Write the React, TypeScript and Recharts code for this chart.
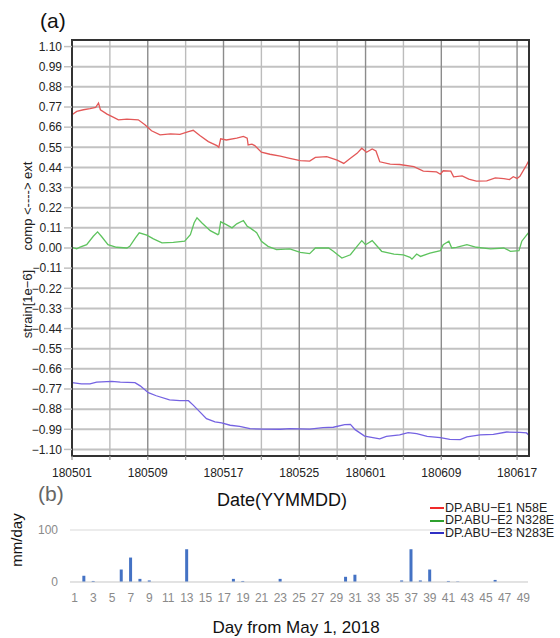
import React from 'react';
import { LineChart, Line, XAxis, YAxis, ReferenceLine, ReferenceArea, CartesianGrid, BarChart, Bar } from 'recharts';

const FONT = '"Liberation Sans", Arial, Helvetica, sans-serif';

// ---- Panel (a): strain series (x = days since 2018-05-01) ----
const e1Days = [0, 0.5, 1.2, 1.9, 2.5, 2.8, 3.0, 3.7, 4.4, 4.9, 5.8, 7.0, 7.7, 8.4, 9.3, 10.4, 11.4, 12.3, 12.8, 13.5, 14.4, 15.3, 15.5, 15.7, 16.3, 17.4, 18.1, 18.5, 18.6, 19.0, 19.3, 20.0, 20.9, 22.0, 23.0, 24.1, 25.1, 25.7, 26.9, 28.0, 28.7, 29.4, 30.1, 30.6, 31.1, 31.7, 32.1, 32.5, 33.6, 34.6, 36.1, 37.1, 38.5, 38.9, 39.2, 40.0, 40.3, 41.2, 41.9, 42.7, 43.8, 44.7, 45.6, 46.2, 46.6, 47.0, 47.3, 47.9, 48.25];
const e1Vals = [0.728, 0.746, 0.755, 0.761, 0.768, 0.792, 0.755, 0.731, 0.713, 0.700, 0.704, 0.700, 0.673, 0.640, 0.618, 0.623, 0.621, 0.636, 0.643, 0.614, 0.581, 0.559, 0.550, 0.596, 0.590, 0.600, 0.609, 0.600, 0.563, 0.567, 0.559, 0.523, 0.512, 0.502, 0.490, 0.477, 0.475, 0.495, 0.499, 0.480, 0.462, 0.490, 0.517, 0.545, 0.523, 0.541, 0.530, 0.471, 0.458, 0.456, 0.444, 0.420, 0.416, 0.403, 0.422, 0.420, 0.389, 0.394, 0.376, 0.365, 0.367, 0.383, 0.379, 0.374, 0.389, 0.380, 0.392, 0.444, 0.477];

const e2Days = [0, 0.5, 0.85, 1.55, 2.25, 2.7, 3.1, 3.8, 4.7, 5.8, 6.1, 6.7, 7.1, 7.9, 8.6, 9.5, 10.7, 11.9, 12.5, 12.9, 13.2, 13.7, 14.6, 15.4, 15.5, 15.7, 16.3, 16.9, 17.4, 18.1, 18.5, 18.8, 19.2, 19.5, 20.0, 20.7, 21.6, 23.0, 24.1, 25.1, 25.7, 27.1, 27.6, 28.5, 29.4, 30.1, 30.6, 31.0, 31.7, 32.7, 34.0, 35.0, 35.7, 35.9, 36.4, 36.8, 37.8, 38.9, 39.2, 39.8, 40.1, 40.6, 41.7, 42.7, 44.2, 45.6, 46.3, 47.2, 47.5, 47.9, 48.25];
const e2Vals = [0.004, -0.005, 0.005, 0.018, 0.064, 0.088, 0.064, 0.018, 0.004, 0.0, 0.009, 0.055, 0.083, 0.070, 0.050, 0.028, 0.031, 0.037, 0.073, 0.138, 0.165, 0.138, 0.095, 0.073, 0.077, 0.143, 0.128, 0.110, 0.132, 0.150, 0.119, 0.110, 0.095, 0.083, 0.037, 0.009, -0.009, -0.005, -0.024, -0.031, 0.0, 0.0, -0.018, -0.055, -0.037, 0.009, 0.040, 0.018, 0.040, -0.018, -0.033, -0.037, -0.051, -0.061, -0.033, -0.046, -0.028, -0.015, 0.018, 0.037, 0.0, 0.004, 0.018, 0.004, -0.005, 0.0, -0.018, -0.015, 0.037, 0.064, 0.086];

const e3Days = [0, 1.0, 1.9, 2.6, 4.2, 5.1, 6.65, 7.2, 8.06, 8.9, 10.3, 11.4, 12.3, 12.8, 13.5, 14.2, 15.1, 15.8, 16.7, 17.7, 18.8, 20.2, 22.0, 23.0, 25.1, 26.5, 27.6, 28.8, 29.4, 29.9, 30.9, 32.5, 33.2, 34.6, 35.5, 36.4, 37.5, 38.9, 39.9, 41.0, 41.7, 43.1, 44.5, 45.9, 47.3, 48.0, 48.25];
const e3Vals = [-0.735, -0.742, -0.742, -0.733, -0.728, -0.733, -0.735, -0.753, -0.790, -0.807, -0.830, -0.834, -0.834, -0.858, -0.895, -0.932, -0.950, -0.955, -0.968, -0.974, -0.987, -0.989, -0.990, -0.987, -0.989, -0.981, -0.979, -0.965, -0.963, -0.992, -1.027, -1.042, -1.029, -1.021, -1.008, -1.014, -1.029, -1.036, -1.045, -1.047, -1.032, -1.021, -1.018, -1.005, -1.007, -1.010, -1.023];

const seriesNames = ['DP.ABU\u2212E1 N58E', 'DP.ABU\u2212E2 N328E', 'DP.ABU\u2212E3 N283E'];
const lineColors = ['#e35858', '#5ec35e', '#7462e2'];
const legendColors = ['#f02a2a', '#2ea02e', '#2f2fc4'];

const dateTickDays = [0, 4, 8, 12, 16, 20, 24, 28, 31, 35, 39, 43, 47];
const dateTickLabels = ['180501', '', '180509', '', '180517', '', '180525', '', '180601', '', '180609', '', '180617'];
const strainTicks = [-1.1, -0.99, -0.88, -0.77, -0.66, -0.55, -0.44, -0.33, -0.22, -0.11, 0, 0.11, 0.22, 0.33, 0.44, 0.55, 0.66, 0.77, 0.88, 0.99, 1.1];
const xDomain: [number, number] = [0, 48.26];
const yDomain: [number, number] = [-1.136, 1.136];
const yLabelLower = 'strain[1e\u22126]';
const yLabelUpper = 'comp <----> ext';

// ---- Panel (b): daily precipitation ----
const rainDayLabels = ['1', '2', '3', '4', '5', '6', '7', '8', '9', '10', '11', '12', '13', '14', '15', '16', '17', '18', '19', '20', '21', '22', '23', '24', '25', '26', '27', '28', '29', '30', '31', '32', '33', '34', '35', '36', '37', '38', '39', '40', '41', '42', '43', '44', '45', '46', '47', '48', '49'];
const rainValues = [0, 12, 2, 0, 0, 24, 47, 6, 3, 0, 0, 0, 63, 0, 0, 0, 0, 6, 2, 0, 0, 0, 6, 0, 0, 0, 0, 0, 0, 10, 14, 0, 0, 0, 0, 3, 63, 3, 24, 0, 2, 1, 0, 0, 0, 4, 0, 0, 0];
const rainTicks = [0, 100];

const series = [
  { days: e1Days, vals: e1Vals },
  { days: e2Days, vals: e2Vals },
  { days: e3Days, vals: e3Vals },
].map((s, i) => ({
  name: seriesNames[i],
  color: lineColors[i],
  data: s.days.map((d, j) => ({ day: d, value: s.vals[j] })),
}));

const rainData = rainDayLabels.map((d, i) => ({ day: d, rain: rainValues[i] }));

const fmtStrain = (v: number) => {
  const s = Math.abs(v).toFixed(2);
  return v < -1e-9 ? '\u2212' + s : s;
};
const fmtDate = (v: number) => {
  const i = dateTickDays.indexOf(v);
  return i >= 0 ? dateTickLabels[i] : '';
};

export default function App() {
  return (
    <div style={{ position: 'relative', width: 560, height: 638, overflow: 'hidden', background: '#fff', fontFamily: FONT }}>
      <style>{`body{margin:0;background:#fff}`}</style>

      <div style={{ position: 'absolute', left: 0, top: 0 }}>
        <LineChart width={560} height={480} margin={{ top: 39, right: 30, bottom: 0, left: 12 }}>
          <CartesianGrid vertical={false} stroke="#c2c2c2" strokeWidth={2} />
          {dateTickDays.map((d, i) => (
            <ReferenceLine
              key={'v' + d}
              x={d}
              stroke={dateTickLabels[i] ? '#8c8c8c' : '#bcbcbc'}
              strokeWidth={1.4}
            />
          ))}
          <ReferenceArea
            x1={xDomain[0]}
            x2={xDomain[1]}
            y1={yDomain[0]}
            y2={yDomain[1]}
            fill="none"
            fillOpacity={0}
            stroke="#333"
            strokeWidth={2}
          />
          <XAxis
            dataKey="day"
            type="number"
            domain={xDomain}
            ticks={dateTickDays}
            interval={0}
            tickFormatter={fmtDate}
            height={24}
            tickSize={4}
            tickMargin={8}
            tickLine={{ stroke: '#999', strokeWidth: 1.3 }}
            axisLine={{ stroke: '#333', strokeWidth: 2 }}
            tick={{ fontSize: 12, fill: '#222', fontFamily: FONT }}
          />
          <XAxis
            xAxisId="top"
            orientation="top"
            type="number"
            domain={xDomain}
            ticks={dateTickDays}
            interval={0}
            height={1}
            tick={false}
            tickSize={5}
            tickLine={{ stroke: '#999', strokeWidth: 1.3 }}
            axisLine={{ stroke: '#333', strokeWidth: 2 }}
          />
          <YAxis
            type="number"
            domain={yDomain}
            ticks={strainTicks}
            interval={0}
            tickFormatter={fmtStrain}
            width={60}
            tickSize={8}
            tickMargin={2}
            tickLine={{ stroke: '#c0c0c0', strokeWidth: 1.5 }}
            axisLine={{ stroke: '#333', strokeWidth: 2 }}
            tick={{ fontSize: 12, fill: '#222', fontFamily: FONT }}
          />
          <YAxis
            yAxisId="r"
            orientation="right"
            type="number"
            domain={yDomain}
            ticks={strainTicks}
            interval={0}
            width={1}
            tick={false}
            tickSize={5}
            tickLine={{ stroke: '#c0c0c0', strokeWidth: 1.5 }}
            axisLine={{ stroke: '#333', strokeWidth: 2 }}
          />
          {series.map((s) => (
            <Line
              key={s.name}
              data={s.data}
              dataKey="value"
              name={s.name}
              type="linear"
              stroke={s.color}
              strokeWidth={1.3}
              dot={false}
              activeDot={false}
              isAnimationActive={false}
            />
          ))}
        </LineChart>
      </div>

      <div style={{ position: 'absolute', left: 0, top: 470 }}>
        <BarChart width={560} height={168} data={rainData} margin={{ top: 60, right: 32, bottom: 0, left: 12 }}>
          <CartesianGrid vertical={false} stroke="#d9d9d9" />
          <XAxis
            dataKey="day"
            interval={1}
            height={56}
            tickLine={false}
            tickSize={0}
            tickMargin={11}
            axisLine={{ stroke: '#d9d9d9' }}
            tick={{ fontSize: 12, fill: '#8a8a8a', fontFamily: FONT }}
          />
          <YAxis
            type="number"
            domain={[0, 100]}
            ticks={rainTicks}
            width={58}
            axisLine={false}
            tickLine={false}
            tickSize={0}
            tickMargin={12}
            tick={{ fontSize: 12, fill: '#8a8a8a', fontFamily: FONT }}
          />
          <Bar dataKey="rain" fill="#4472c4" barSize={3} isAnimationActive={false} />
        </BarChart>
      </div>

      <svg width={560} height={638} style={{ position: 'absolute', left: 0, top: 0, pointerEvents: 'none' }}>
        <text x={40} y={28} fontSize={21} fill="#111" fontFamily={FONT}>(a)</text>
        <text x={38} y={501} fontSize={21} fill="#666" fontFamily={FONT}>(b)</text>
        <text x={282} y={506} fontSize={18} fill="#111" fontFamily={FONT} textAnchor="middle">Date(YYMMDD)</text>
        <text x={296} y={633} fontSize={17} fill="#111" fontFamily={FONT} textAnchor="middle">Day from May 1, 2018</text>
        <text x={22} y={540} fontSize={15} fill="#111" fontFamily={FONT} textAnchor="middle" transform="rotate(-90 22 540)">mm/day</text>
        <text x={31.5} y={304} fontSize={13} fill="#222" fontFamily={FONT} textAnchor="middle" transform="rotate(-90 31.5 304)">{yLabelLower}</text>
        <text x={31.5} y={206} fontSize={13} fill="#222" fontFamily={FONT} textAnchor="middle" transform="rotate(-90 31.5 206)">{yLabelUpper}</text>
      </svg>

      <div style={{ position: 'absolute', left: 430, top: 501.5 }}>
        {seriesNames.map((n, i) => (
          <div key={n} style={{ display: 'flex', alignItems: 'center', height: 12.8, whiteSpace: 'nowrap' }}>
            <span style={{ display: 'inline-block', width: 14, height: 2, background: legendColors[i], marginRight: 1 }} />
            <span style={{ fontSize: 12.5, color: '#222', fontFamily: FONT, lineHeight: '12.8px' }}>{n}</span>
          </div>
        ))}
      </div>
    </div>
  );
}
